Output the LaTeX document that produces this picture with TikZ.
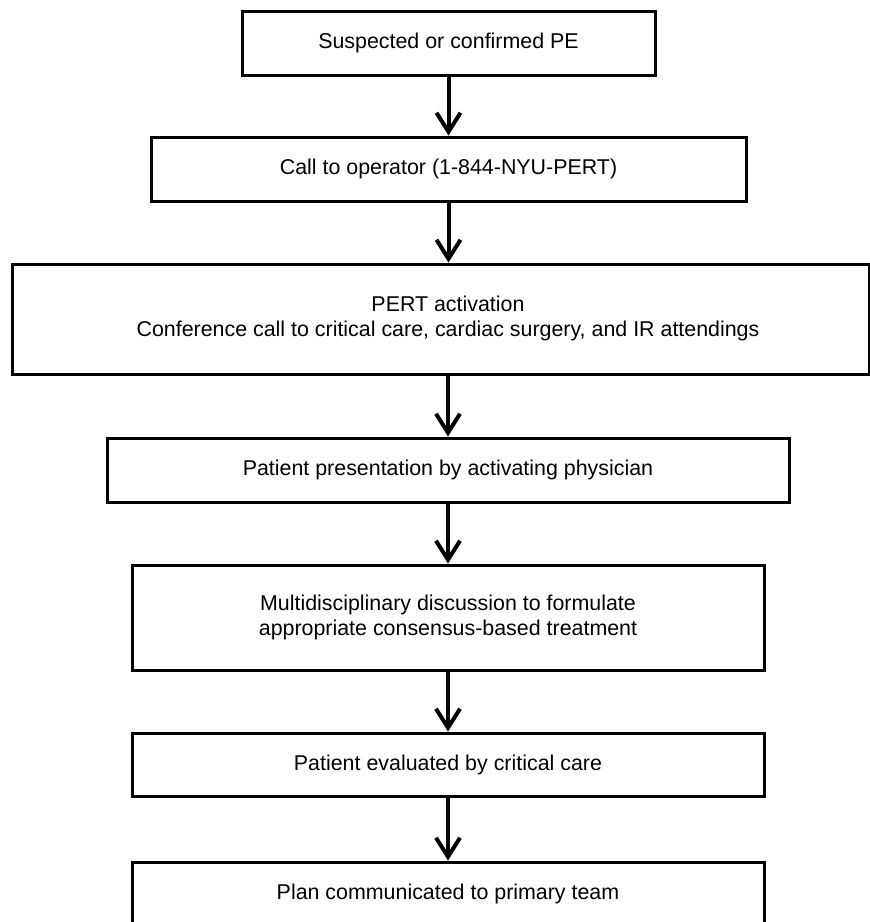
\documentclass[tikz,border=0pt]{standalone}
\usepackage{fontspec}
\setmainfont{Liberation Sans}
\usetikzlibrary{arrows.meta}
\begin{document}
\begin{tikzpicture}[x=1pt,y=-1pt,
  box/.style={draw=black, line width=3pt, fill=white, inner sep=0pt, minimum width=632pt, font=\fontsize{21.4pt}{25pt}\selectfont, align=center},
  txt/.style={inner sep=0pt, font=\fontsize{21.4pt}{25pt}\selectfont, align=center},
  arr/.style={line width=4pt, -{Straight Barb[length=19pt,width=24pt,line width=4pt]}}]
\useasboundingbox (0,0) rectangle (870,922);
\clip (0,0) rectangle (870,922);
\node[box, minimum width=413pt, minimum height=64pt] (n1) at (448.5,43) {Suspected or confirmed PE};
\node[box, minimum width=595pt, minimum height=64pt] (n2) at (448.5,169) {Call to operator (1-844-NYU-PERT)};
\node[box, minimum width=857pt, minimum height=110pt] (n3) at (440.5,319) {};
\node[txt] (t3) at (448,318) {PERT activation\\Conference call to critical care, cardiac surgery, and IR attendings};
\node[box, minimum width=682pt, minimum height=64pt] (n4) at (448,470) {Patient presentation by activating physician};
\node[box, minimum height=105pt] (n5) at (448,617.5) {Multidisciplinary discussion to formulate\\appropriate consensus-based treatment};
\node[box, minimum height=63pt] (n6) at (448,764.5) {Patient evaluated by critical care};
\node[box, minimum height=64pt] (n7) at (448,894) {Plan communicated to primary team};
\draw[arr] (n1.south) -- (n2.north);
\draw[arr] (n2.south) -- (n3.north -| n2.south);
\draw[arr] (n3.south -| n4.north) -- (n4.north);
\draw[arr] (n4.south) -- (n5.north);
\draw[arr] (n5.south) -- (n6.north);
\draw[arr] (n6.south) -- (n7.north);
\end{tikzpicture}
\end{document}
